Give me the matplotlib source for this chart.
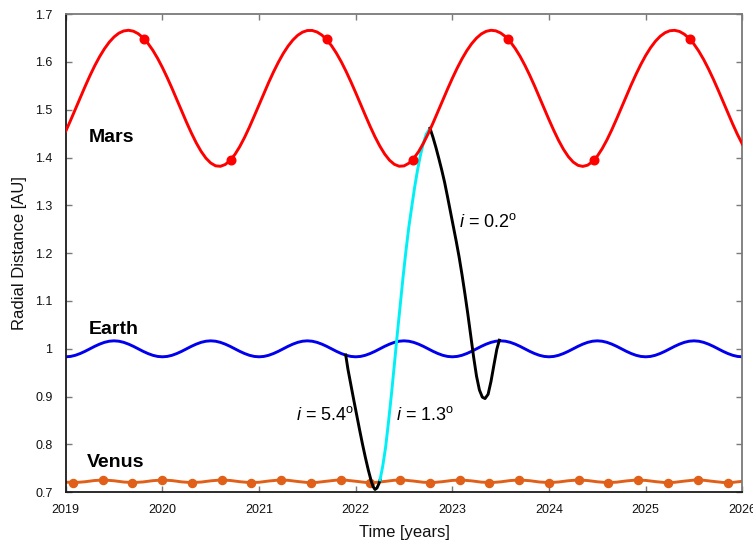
import numpy as np
import matplotlib
matplotlib.use("Agg")
import matplotlib.pyplot as plt
from matplotlib.ticker import FuncFormatter

plt.rcParams['font.family'] = ['Liberation Sans', 'DejaVu Sans']
plt.rcParams['mathtext.fontset'] = 'custom'
plt.rcParams['mathtext.rm'] = 'Liberation Sans'
plt.rcParams['mathtext.it'] = 'Liberation Sans:italic'
plt.rcParams['mathtext.bf'] = 'Liberation Sans:bold'

# ---- sampling grids for the planetary orbits ----
years_fine = np.round(np.arange(2019.0, 2026.001, 0.05), 2)   # Mars, Earth
years = np.round(np.arange(2019.0, 2026.001, 0.1), 1)         # Venus

# Radial distances [AU]
mars_r = [
    1.4550, 1.4776, 1.5011, 1.5250, 1.5484, 1.5709, 1.5918, 1.6107, 1.6272, 1.6411,
    1.6521, 1.6600, 1.6646, 1.6660, 1.6641, 1.6588, 1.6503, 1.6388, 1.6245, 1.6075,
    1.5882, 1.5670, 1.5444, 1.5208, 1.4969, 1.4735, 1.4512, 1.4307, 1.4130, 1.3987,
    1.3885, 1.3826, 1.3816, 1.3853, 1.3937, 1.4063, 1.4226, 1.4419, 1.4634, 1.4865,
    1.5102, 1.5340, 1.5571, 1.5790, 1.5992, 1.6173, 1.6328, 1.6456, 1.6555, 1.6621,
    1.6655, 1.6656, 1.6624, 1.6560, 1.6463, 1.6337, 1.6183, 1.6004, 1.5803, 1.5585,
    1.5355, 1.5117, 1.4880, 1.4648, 1.4431, 1.4237, 1.4072, 1.3943, 1.3857, 1.3817,
    1.3824, 1.3880, 1.3980, 1.4120, 1.4296, 1.4498, 1.4721, 1.4955, 1.5193, 1.5429,
    1.5656, 1.5869, 1.6063, 1.6235, 1.6380, 1.6497, 1.6584, 1.6638, 1.6660, 1.6648,
    1.6603, 1.6527, 1.6419, 1.6281, 1.6118, 1.5930, 1.5722, 1.5499, 1.5265, 1.5026,
    1.4790, 1.4564, 1.4354, 1.4170, 1.4018, 1.3905, 1.3836, 1.3814, 1.3840, 1.3913,
    1.4029, 1.4184, 1.4370, 1.4581, 1.4809, 1.5045, 1.5283, 1.5517, 1.5739, 1.5945,
    1.6132, 1.6293, 1.6428, 1.6534, 1.6608, 1.6650, 1.6659, 1.6635, 1.6578, 1.6489,
    1.6370, 1.6222, 1.6049, 1.5853, 1.5639, 1.5411, 1.5174, 1.4936, 1.4702, 1.4481,
    1.4281,
]

earth_r = [
    0.9833, 0.9841, 0.9865, 0.9902, 0.9948, 1.0000, 1.0052, 1.0098, 1.0135, 1.0159,
    1.0167, 1.0159, 1.0135, 1.0098, 1.0052, 1.0000, 0.9948, 0.9902, 0.9865, 0.9841,
    0.9833, 0.9841, 0.9865, 0.9902, 0.9948, 1.0000, 1.0052, 1.0098, 1.0135, 1.0159,
    1.0167, 1.0159, 1.0135, 1.0098, 1.0052, 1.0000, 0.9948, 0.9902, 0.9865, 0.9841,
    0.9833, 0.9841, 0.9865, 0.9902, 0.9948, 1.0000, 1.0052, 1.0098, 1.0135, 1.0159,
    1.0167, 1.0159, 1.0135, 1.0098, 1.0052, 1.0000, 0.9948, 0.9902, 0.9865, 0.9841,
    0.9833, 0.9841, 0.9865, 0.9902, 0.9948, 1.0000, 1.0052, 1.0098, 1.0135, 1.0159,
    1.0167, 1.0159, 1.0135, 1.0098, 1.0052, 1.0000, 0.9948, 0.9902, 0.9865, 0.9841,
    0.9833, 0.9841, 0.9865, 0.9902, 0.9948, 1.0000, 1.0052, 1.0098, 1.0135, 1.0159,
    1.0167, 1.0159, 1.0135, 1.0098, 1.0052, 1.0000, 0.9948, 0.9902, 0.9865, 0.9841,
    0.9833, 0.9841, 0.9865, 0.9902, 0.9948, 1.0000, 1.0052, 1.0098, 1.0135, 1.0159,
    1.0167, 1.0159, 1.0135, 1.0098, 1.0052, 1.0000, 0.9948, 0.9902, 0.9865, 0.9841,
    0.9833, 0.9841, 0.9865, 0.9902, 0.9948, 1.0000, 1.0052, 1.0098, 1.0135, 1.0159,
    1.0167, 1.0159, 1.0135, 1.0098, 1.0052, 1.0000, 0.9948, 0.9902, 0.9865, 0.9841,
    0.9833,
]

venus_r = [
    0.7212, 0.7204, 0.7221, 0.7247, 0.7257, 0.7241, 0.7215, 0.7203, 0.7217, 0.7243,
    0.7257, 0.7245, 0.7218, 0.7203, 0.7214, 0.7240, 0.7257, 0.7248, 0.7222, 0.7204,
    0.7210, 0.7236, 0.7255, 0.7251, 0.7226, 0.7205, 0.7208, 0.7232, 0.7254, 0.7253,
    0.7231, 0.7207, 0.7206, 0.7227, 0.7252, 0.7255, 0.7235, 0.7210, 0.7204, 0.7223,
    0.7249, 0.7256, 0.7239, 0.7213, 0.7203, 0.7219, 0.7246, 0.7257, 0.7243, 0.7216,
    0.7203, 0.7216, 0.7242, 0.7257, 0.7246, 0.7220, 0.7203, 0.7212, 0.7238, 0.7256,
    0.7249, 0.7224, 0.7204, 0.7209, 0.7234, 0.7255, 0.7252, 0.7228, 0.7206, 0.7207,
    0.7230,
]

# Marked positions along the orbits
mars_mark_t = [2019.81, 2020.71, 2021.70, 2022.59, 2023.58, 2024.47, 2025.46]
mars_mark_r = [1.648, 1.395, 1.648, 1.395, 1.648, 1.395, 1.648]

venus_mark_t = [2019.08, 2019.39, 2019.69, 2020.00, 2020.31, 2020.62, 2020.92, 2021.23,
                2021.54, 2021.85, 2022.15, 2022.46, 2022.77, 2023.08, 2023.38, 2023.69,
                2024.00, 2024.31, 2024.61, 2024.92, 2025.23, 2025.54, 2025.85]
venus_mark_r = [0.7203, 0.7257, 0.7203, 0.7257, 0.7203, 0.7257, 0.7203, 0.7257,
                0.7203, 0.7257, 0.7203, 0.7257, 0.7203, 0.7257, 0.7203, 0.7257,
                0.7203, 0.7257, 0.7203, 0.7257, 0.7203, 0.7257, 0.7203]

# ---- transfer legs ----
leg1_t = [2021.897, 2021.92, 2021.95, 2021.98, 2022.01, 2022.04, 2022.07, 2022.10,
          2022.13, 2022.16, 2022.18, 2022.20, 2022.22, 2022.24, 2022.252]
leg1_r = [0.987, 0.957, 0.925, 0.893, 0.862, 0.831, 0.801, 0.773,
          0.747, 0.724, 0.712, 0.706, 0.709, 0.718, 0.726]

leg2_t = [2022.252, 2022.28, 2022.31, 2022.34, 2022.37, 2022.40, 2022.43, 2022.46,
          2022.49, 2022.52, 2022.55, 2022.58, 2022.61, 2022.64, 2022.67, 2022.70,
          2022.73, 2022.769]
leg2_r = [0.726, 0.755, 0.795, 0.848, 0.905, 0.967, 1.030, 1.090,
          1.150, 1.205, 1.255, 1.297, 1.338, 1.374, 1.405, 1.430,
          1.449, 1.461]

leg3_t = [2022.769, 2022.80, 2022.83, 2022.86, 2022.89, 2022.92, 2022.95, 2022.98,
          2023.01, 2023.04, 2023.07, 2023.10, 2023.13, 2023.16, 2023.19, 2023.22,
          2023.25, 2023.28, 2023.31, 2023.338, 2023.37, 2023.40, 2023.43, 2023.46,
          2023.486]
leg3_r = [1.461, 1.442, 1.421, 1.398, 1.374, 1.348, 1.318, 1.287,
          1.256, 1.225, 1.192, 1.155, 1.115, 1.073, 1.028, 0.983,
          0.943, 0.914, 0.899, 0.896, 0.905, 0.932, 0.966, 0.999,
          1.018]

year_ticks = [2019, 2020, 2021, 2022, 2023, 2024, 2025, 2026]
r_ticks = [0.7, 0.8, 0.9, 1.0, 1.1, 1.2, 1.3, 1.4, 1.5, 1.6, 1.7]

MARS = '#ff0000'
EARTH = '#0000ee'
VENUS = '#e0601a'
CYAN = '#00f0f5'
LW = 2.1

fig = plt.figure(figsize=(7.53, 5.41), dpi=100)
ax = fig.add_axes([0.0873, 0.0900, 0.8985, 0.8841])

ax.plot(years, venus_r, color=VENUS, lw=LW, zorder=2, solid_joinstyle='round')
ax.plot(venus_mark_t, venus_mark_r, 'o', color=VENUS, ms=5.8, zorder=2)
ax.plot(years_fine, earth_r, color=EARTH, lw=LW, zorder=2, solid_joinstyle='round')

ax.plot(leg1_t, leg1_r, color='black', lw=LW, zorder=3, solid_joinstyle='round')
ax.plot(leg2_t, leg2_r, color=CYAN, lw=LW, zorder=3, solid_joinstyle='round')
ax.plot(leg3_t, leg3_r, color='black', lw=LW, zorder=3, solid_joinstyle='round')

ax.plot(years_fine, mars_r, color=MARS, lw=LW, zorder=4, solid_joinstyle='round')
ax.plot(mars_mark_t, mars_mark_r, 'o', color=MARS, ms=6.2, zorder=4)

ax.set_xlim(2019, 2026)
ax.set_ylim(0.7, 1.7)
ax.set_xticks(year_ticks)
ax.set_yticks(r_ticks)
ax.yaxis.set_major_formatter(FuncFormatter(lambda v, p: f"{v:g}"))

for side in ('left', 'bottom'):
    ax.spines[side].set_color('#1a1a1a')
    ax.spines[side].set_linewidth(1.3)
for side in ('top', 'right'):
    ax.spines[side].set_color('#7a7a7a')
    ax.spines[side].set_linewidth(1.3)

ax.tick_params(direction='in', length=4.3, width=1.0, color='#7a7a7a',
               top=True, right=True, labelsize=9, labelcolor='#111111')
ax.tick_params(axis='x', pad=8.5)
ax.tick_params(axis='y', pad=9.5)

fig.text(404 / 753, 1 - 536.7 / 541, 'Time [years]', ha='center', va='baseline',
         fontsize=12, color='#111111')
fig.text(20 / 753, 1 - 253 / 541, 'Radial Distance [AU]', ha='center', va='center',
         rotation=90, fontsize=12, color='#111111')

ax.text(2019.241, 1.433, 'Mars', fontsize=14, fontweight='bold', ha='left', va='baseline')
ax.text(2019.234, 1.031, 'Earth', fontsize=14, fontweight='bold', ha='left', va='baseline')
ax.text(2019.223, 0.7523, 'Venus', fontsize=14, fontweight='bold', ha='left', va='baseline')

ax.text(2021.383, 0.8512, r'$i$ = 5.4$^{\mathrm{o}}$', fontsize=13, ha='left', va='baseline')
ax.text(2022.417, 0.8512, r'$i$ = 1.3$^{\mathrm{o}}$', fontsize=13, ha='left', va='baseline')
ax.text(2023.072, 1.2553, r'$i$ = 0.2$^{\mathrm{o}}$', fontsize=13, ha='left', va='baseline')

fig.savefig('out.png', dpi=100)
